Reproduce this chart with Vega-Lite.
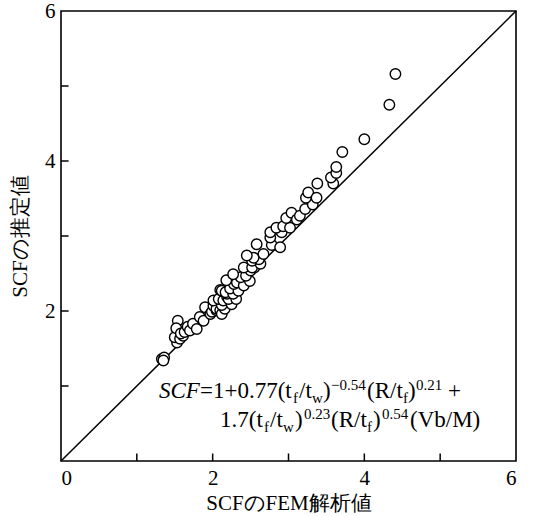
{
  "$schema": "https://vega.github.io/schema/vega-lite/v6.json",
  "autosize": "none",
  "width": 455,
  "height": 450,
  "padding": {"left": 61, "top": 11, "right": 18, "bottom": 56},
  "background": "white",
  "config": {
    "view": {"stroke": "black", "strokeWidth": 1.6},
    "font": "Liberation Serif"
  },
  "datasets": {
    "pts": [
      {"fem": 1.33, "est": 1.36}, {"fem": 1.36, "est": 1.38}, {"fem": 1.35, "est": 1.34},
      {"fem": 1.53, "est": 1.58}, {"fem": 1.50, "est": 1.65}, {"fem": 1.57, "est": 1.63},
      {"fem": 1.54, "est": 1.87}, {"fem": 1.52, "est": 1.77}, {"fem": 1.61, "est": 1.67},
      {"fem": 1.58, "est": 1.70}, {"fem": 1.63, "est": 1.72}, {"fem": 1.67, "est": 1.79},
      {"fem": 1.70, "est": 1.74}, {"fem": 1.74, "est": 1.83}, {"fem": 1.79, "est": 1.76},
      {"fem": 1.83, "est": 1.92}, {"fem": 1.88, "est": 1.87}, {"fem": 1.90, "est": 2.05},
      {"fem": 1.97, "est": 1.96}, {"fem": 1.99, "est": 1.99}, {"fem": 2.05, "est": 2.01},
      {"fem": 2.01, "est": 2.07}, {"fem": 2.05, "est": 2.03}, {"fem": 2.10, "est": 2.01},
      {"fem": 2.12, "est": 1.96}, {"fem": 2.16, "est": 2.03}, {"fem": 2.12, "est": 2.08},
      {"fem": 2.01, "est": 2.14}, {"fem": 2.08, "est": 2.16}, {"fem": 2.14, "est": 2.14},
      {"fem": 2.19, "est": 2.19}, {"fem": 2.25, "est": 2.09}, {"fem": 2.21, "est": 2.16},
      {"fem": 2.31, "est": 2.16}, {"fem": 2.10, "est": 2.28}, {"fem": 2.12, "est": 2.27},
      {"fem": 2.19, "est": 2.23}, {"fem": 2.17, "est": 2.25}, {"fem": 2.27, "est": 2.23},
      {"fem": 2.23, "est": 2.30}, {"fem": 2.34, "est": 2.27}, {"fem": 2.28, "est": 2.36},
      {"fem": 2.32, "est": 2.38}, {"fem": 2.41, "est": 2.34}, {"fem": 2.18, "est": 2.41},
      {"fem": 2.49, "est": 2.40}, {"fem": 2.37, "est": 2.45}, {"fem": 2.27, "est": 2.49},
      {"fem": 2.44, "est": 2.47}, {"fem": 2.50, "est": 2.54}, {"fem": 2.41, "est": 2.58},
      {"fem": 2.55, "est": 2.58}, {"fem": 2.52, "est": 2.58}, {"fem": 2.63, "est": 2.63},
      {"fem": 2.52, "est": 2.67}, {"fem": 2.61, "est": 2.69}, {"fem": 2.54, "est": 2.71},
      {"fem": 2.45, "est": 2.74}, {"fem": 2.67, "est": 2.76}, {"fem": 2.58, "est": 2.89},
      {"fem": 2.78, "est": 2.88}, {"fem": 2.89, "est": 2.85}, {"fem": 2.76, "est": 2.98},
      {"fem": 2.76, "est": 3.05}, {"fem": 2.91, "est": 3.05}, {"fem": 2.84, "est": 3.11},
      {"fem": 2.93, "est": 3.13}, {"fem": 3.02, "est": 3.11}, {"fem": 2.97, "est": 3.24},
      {"fem": 3.04, "est": 3.31}, {"fem": 3.11, "est": 3.22}, {"fem": 3.15, "est": 3.27},
      {"fem": 3.22, "est": 3.36}, {"fem": 3.32, "est": 3.42}, {"fem": 3.23, "est": 3.51},
      {"fem": 3.26, "est": 3.58}, {"fem": 3.37, "est": 3.51}, {"fem": 3.38, "est": 3.70},
      {"fem": 3.59, "est": 3.70}, {"fem": 3.56, "est": 3.78}, {"fem": 3.63, "est": 3.84},
      {"fem": 3.63, "est": 3.92}, {"fem": 3.71, "est": 4.12}, {"fem": 4.00, "est": 4.29},
      {"fem": 4.33, "est": 4.75}, {"fem": 4.41, "est": 5.16}
    ],
    "diag": [{"fem": 0, "est": 0}, {"fem": 6, "est": 6}],
    "ticks": [
      {"v": 1, "base": 0, "len": 0.1}, {"v": 2, "base": 0, "len": 0.1},
      {"v": 3, "base": 0, "len": 0.1}, {"v": 4, "base": 0, "len": 0.1},
      {"v": 5, "base": 0, "len": 0.1}
    ],
    "formula": [
      {"kind": "italic", "t": "SCF", "x": 1.292, "y": 0.836},
      {"kind": "main", "t": "=1+0.77(t", "x": 1.833, "y": 0.836},
      {"kind": "script", "t": "f", "x": 3.059, "y": 0.770},
      {"kind": "main", "t": "/t", "x": 3.139, "y": 0.836},
      {"kind": "script", "t": "w", "x": 3.310, "y": 0.770},
      {"kind": "main", "t": ")", "x": 3.455, "y": 0.836},
      {"kind": "script", "t": "−0.54", "x": 3.561, "y": 0.943},
      {"kind": "main", "t": "(R/t", "x": 4.035, "y": 0.836},
      {"kind": "script", "t": "f", "x": 4.510, "y": 0.770},
      {"kind": "main", "t": ")", "x": 4.576, "y": 0.836},
      {"kind": "script", "t": "0.21", "x": 4.682, "y": 0.943},
      {"kind": "main", "t": "+", "x": 5.103, "y": 0.836},
      {"kind": "main", "t": "1.7(t", "x": 2.097, "y": 0.451},
      {"kind": "script", "t": "f", "x": 2.677, "y": 0.385},
      {"kind": "main", "t": "/t", "x": 2.756, "y": 0.451},
      {"kind": "script", "t": "w", "x": 2.928, "y": 0.385},
      {"kind": "main", "t": ")", "x": 3.086, "y": 0.451},
      {"kind": "script", "t": "0.23", "x": 3.205, "y": 0.558},
      {"kind": "main", "t": "(R/t", "x": 3.561, "y": 0.451},
      {"kind": "script", "t": "f", "x": 4.035, "y": 0.385},
      {"kind": "main", "t": ")", "x": 4.114, "y": 0.451},
      {"kind": "script", "t": "0.54", "x": 4.233, "y": 0.558},
      {"kind": "main", "t": "(Vb/M)", "x": 4.602, "y": 0.451}
    ]
  },
  "layer": [
    {
      "data": {"name": "diag"},
      "mark": {"type": "line", "color": "black", "strokeWidth": 1.5},
      "encoding": {
        "x": {
          "field": "fem", "type": "quantitative",
          "scale": {"domain": [0, 6], "nice": false},
          "axis": {
            "values": [0, 2, 4, 6],
            "format": "d",
            "domain": false, "grid": false, "ticks": false,
            "labelPadding": 6, "labelFontSize": 21, "labelColor": "black",
            "labelFont": "Liberation Serif",
            "title": "SCFのFEM解析値", "titleFontSize": 21, "titleFontWeight": "normal",
            "titleColor": "black", "titleFont": "Liberation Serif",
            "titlePadding": 4
          }
        },
        "y": {
          "field": "est", "type": "quantitative",
          "scale": {"domain": [0, 6], "nice": false},
          "axis": {
            "values": [2, 4, 6],
            "format": "d",
            "domain": false, "grid": false, "ticks": false,
            "labelPadding": 6, "labelFontSize": 21, "labelColor": "black",
            "labelFont": "Liberation Serif",
            "title": "SCFの推定値", "titleFontSize": 21, "titleFontWeight": "normal",
            "titleColor": "black", "titleFont": "Liberation Serif",
            "titlePadding": 14
          }
        }
      }
    },
    {
      "data": {"name": "ticks"},
      "mark": {"type": "rule", "color": "black", "strokeWidth": 1.5},
      "encoding": {
        "x": {"field": "v", "type": "quantitative"},
        "y": {"field": "base", "type": "quantitative"},
        "y2": {"field": "len"}
      }
    },
    {
      "data": {"name": "ticks"},
      "mark": {"type": "rule", "color": "black", "strokeWidth": 1.5},
      "encoding": {
        "y": {"field": "v", "type": "quantitative"},
        "x": {"field": "base", "type": "quantitative"},
        "x2": {"field": "len"}
      }
    },
    {
      "data": {"name": "pts"},
      "mark": {"type": "point", "shape": "circle", "filled": false, "fill": "white", "fillOpacity": 1, "stroke": "black", "strokeWidth": 1.4, "size": 110, "opacity": 1},
      "encoding": {
        "x": {"field": "fem", "type": "quantitative"},
        "y": {"field": "est", "type": "quantitative"}
      }
    },
    {
      "data": {"name": "formula"},
      "transform": [{"filter": "datum.kind == 'main'"}],
      "mark": {"type": "text", "align": "left", "baseline": "alphabetic", "fontSize": 23, "font": "Liberation Serif", "color": "black"},
      "encoding": {
        "x": {"field": "x", "type": "quantitative"},
        "y": {"field": "y", "type": "quantitative"},
        "text": {"field": "t"}
      }
    },
    {
      "data": {"name": "formula"},
      "transform": [{"filter": "datum.kind == 'italic'"}],
      "mark": {"type": "text", "align": "left", "baseline": "alphabetic", "fontSize": 23, "fontStyle": "italic", "font": "Liberation Serif", "color": "black"},
      "encoding": {
        "x": {"field": "x", "type": "quantitative"},
        "y": {"field": "y", "type": "quantitative"},
        "text": {"field": "t"}
      }
    },
    {
      "data": {"name": "formula"},
      "transform": [{"filter": "datum.kind == 'script'"}],
      "mark": {"type": "text", "align": "left", "baseline": "alphabetic", "fontSize": 15, "font": "Liberation Serif", "color": "black"},
      "encoding": {
        "x": {"field": "x", "type": "quantitative"},
        "y": {"field": "y", "type": "quantitative"},
        "text": {"field": "t"}
      }
    }
  ]
}
